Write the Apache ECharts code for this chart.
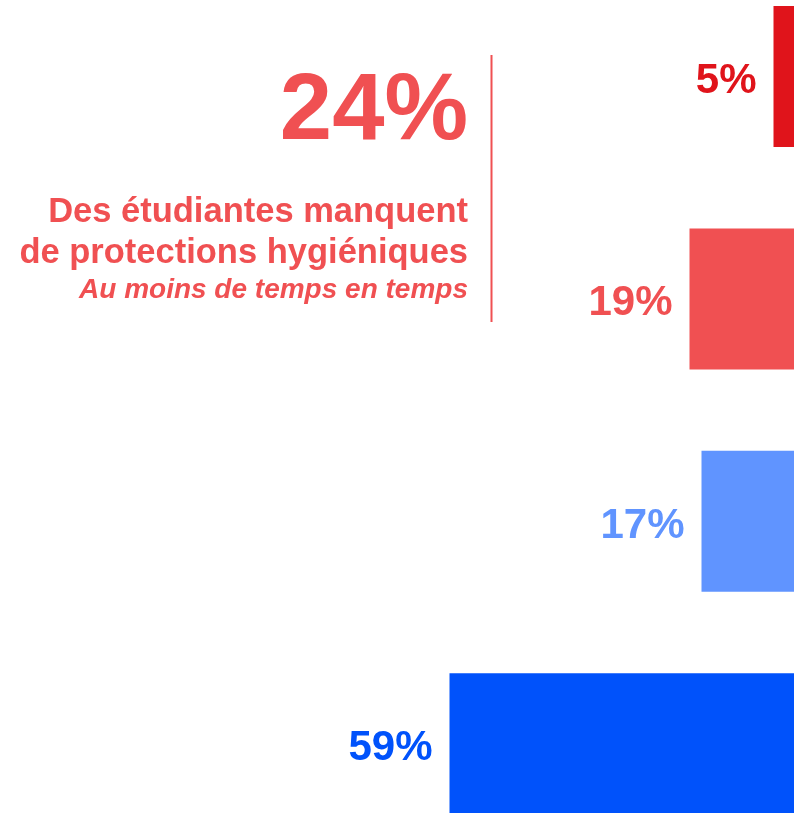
<!DOCTYPE html>
<html>
<head>
<meta charset="utf-8">
<script src="https://cdn.jsdelivr.net/npm/echarts@6/dist/echarts.min.js"></script>
<style>
html,body{margin:0;padding:0;background:#fff;}
#c{width:794px;height:813px;}
</style>
</head>
<body>
<div id="c"></div>
<script>
const categories = ['Souvent', 'De temps en temps', 'Rarement', 'Jamais'];
const values = [5, 19, 17, 59];
const barColors = ['#e0141b', '#f05052', '#6094ff', '#0052fb'];
const headline = '24%';
const subtitleLines = ['Des étudiantes manquent', 'de protections hygiéniques'];
const noteLine = 'Au moins de temps en temps';
const accent = '#f05052';
const FONT = '"Liberation Sans", Arial, sans-serif';

const chart = echarts.init(document.getElementById('c'), null, {renderer: 'canvas'});
chart.setOption({
  animation: false,
  backgroundColor: '#ffffff',
  grid: {left: 203.5, right: -9.5, top: -34.7, bottom: -41.9, containLabel: false, outerBoundsMode: 'none'},
  xAxis: {
    type: 'value', inverse: true, min: 0, max: 100,
    show: false, splitLine: {show: false}
  },
  yAxis: {
    type: 'category', inverse: true, data: categories,
    show: false
  },
  series: [{
    type: 'bar',
    barWidth: 141,
    data: values.map((v, i) => ({value: v, itemStyle: {color: barColors[i]}, label: {color: barColors[i]}})),
    label: {
      show: true, position: 'left', distance: 17, offset: [0, 5],
      formatter: '{c}%', fontSize: 42, fontWeight: 'bold', fontFamily: FONT
    }
  }],
  graphic: [
    {type: 'text', x: 468, y: 113, style: {text: headline, fill: accent, font: 'bold 94px ' + FONT, align: 'right', verticalAlign: 'middle'}},
    {type: 'text', x: 468, y: 212, style: {text: subtitleLines[0], fill: accent, font: 'bold 34.5px ' + FONT, align: 'right', verticalAlign: 'middle'}},
    {type: 'text', x: 468, y: 253.5, style: {text: subtitleLines[1], fill: accent, font: 'bold 34.5px ' + FONT, align: 'right', verticalAlign: 'middle'}},
    {type: 'text', x: 468, y: 290, style: {text: noteLine, fill: accent, font: 'italic bold 28px ' + FONT, align: 'right', verticalAlign: 'middle'}},
    {type: 'line', shape: {x1: 491.5, y1: 55, x2: 491.5, y2: 322}, style: {stroke: accent, lineWidth: 2}}
  ]
});
</script>
</body>
</html>
